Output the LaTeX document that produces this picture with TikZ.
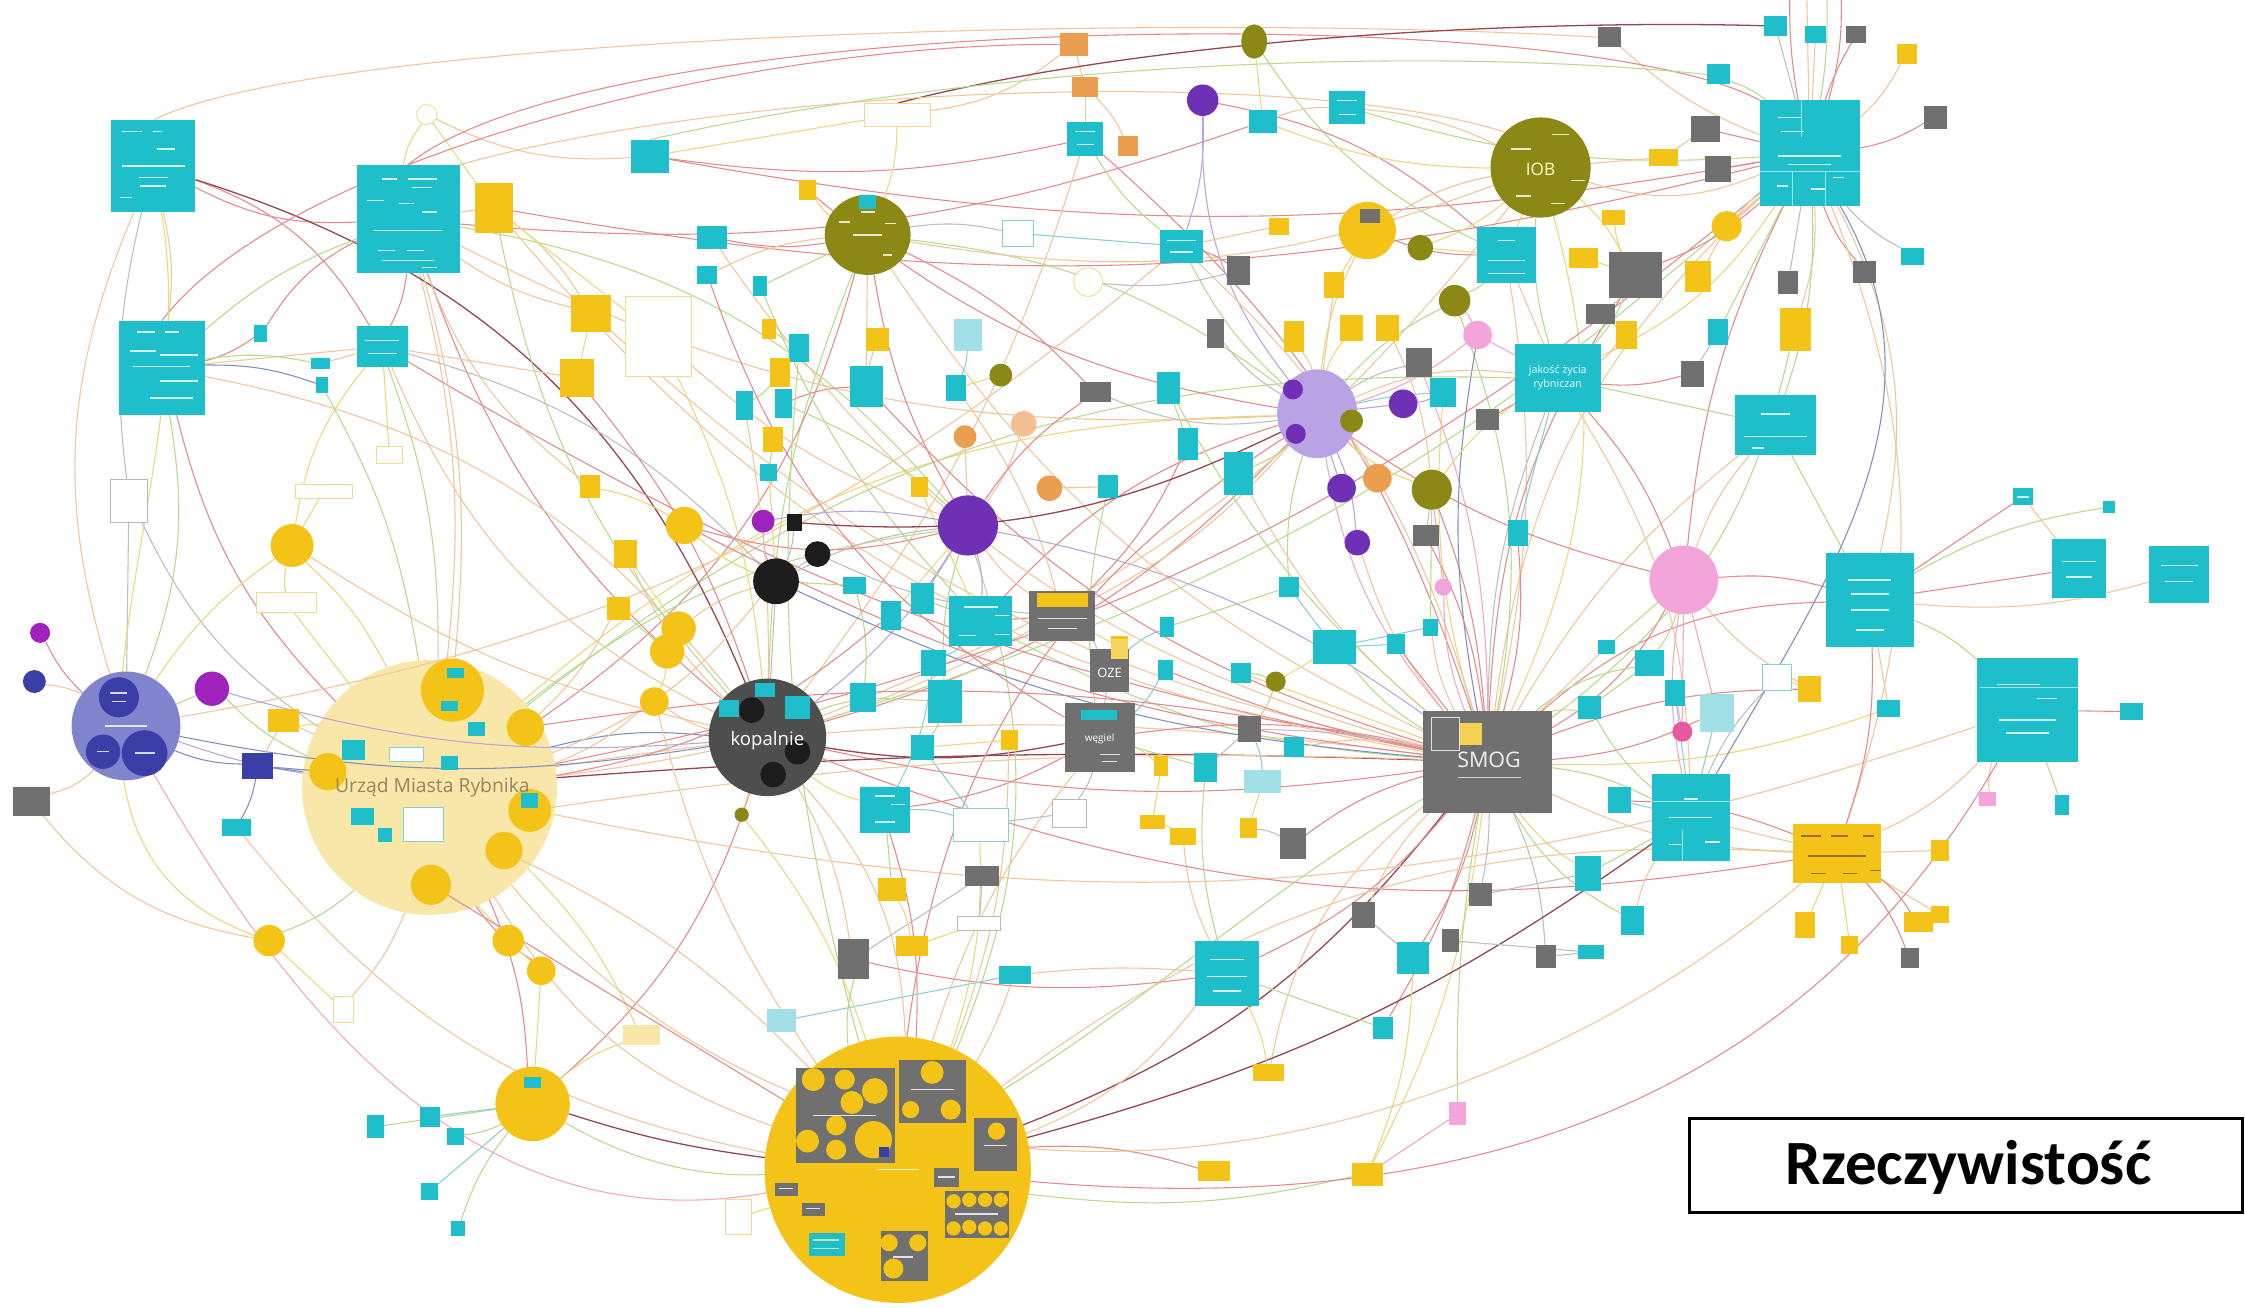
\documentclass[tikz,border=0pt]{standalone}
\usepackage{fontspec}
\setmainfont{Open Sans}
\newfontfamily\carl{Carlito}
\usetikzlibrary{shapes.geometric}
\definecolor{colCy}{RGB}{30,190,203}
\definecolor{colYe}{RGB}{243,195,24}
\definecolor{colGr}{RGB}{112,112,112}
\definecolor{colOl}{RGB}{140,136,22}
\definecolor{colPu}{RGB}{112,48,182}
\definecolor{colLp}{RGB}{186,163,228}
\definecolor{colPer}{RGB}{128,132,204}
\definecolor{colDb}{RGB}{58,62,166}
\definecolor{colMag}{RGB}{160,34,188}
\definecolor{colOr}{RGB}{236,158,80}
\definecolor{colOrP}{RGB}{243,192,150}
\definecolor{colPk}{RGB}{243,165,218}
\definecolor{colPkD}{RGB}{232,90,160}
\definecolor{colPale}{RGB}{249,231,170}
\definecolor{colBk}{RGB}{28,28,28}
\definecolor{colKop}{RGB}{78,78,78}
\definecolor{colPy}{RGB}{243,218,140}
\definecolor{colPcy}{RGB}{160,224,230}
\definecolor{colPco}{RGB}{130,210,218}
\definecolor{eA}{RGB}{242,197,154}
\definecolor{eB}{RGB}{229,138,138}
\definecolor{eC}{RGB}{185,217,140}
\definecolor{eD}{RGB}{238,214,122}
\definecolor{eE}{RGB}{190,190,190}
\definecolor{eF}{RGB}{183,166,218}
\definecolor{eG}{RGB}{150,70,80}
\definecolor{eH}{RGB}{126,143,191}
\definecolor{eI}{RGB}{242,167,198}
\definecolor{eJ}{RGB}{138,207,214}
\definecolor{colUrzT}{RGB}{150,132,92}
\pgfdeclarelayer{bgz}\pgfdeclarelayer{edges}\pgfsetlayers{bgz,edges,main}
\tikzset{
 base/.style={inner sep=0pt,outer sep=0pt,draw=none},
 cy/.style={base,rectangle,fill=colCy},
 ye/.style={base,rectangle,fill=colYe},
 gr/.style={base,rectangle,fill=colGr},
 orb/.style={base,rectangle,fill=colOr},
 pkb/.style={base,rectangle,fill=colPk},
 blk/.style={base,rectangle,fill=colBk},
 dbb/.style={base,rectangle,fill=colDb},
 pyo/.style={base,fill=white,draw=colPy,line width=.6pt},
 pyf/.style={base,rectangle,fill=colPale},
 pcf/.style={base,rectangle,fill=colPcy},
 pco/.style={base,fill=white,draw=colPco,line width=.6pt},
 pwo/.style={base,rectangle,fill=white,draw=gray!55,line width=.6pt},
 yc/.style={base,fill=colYe}, ol/.style={base,fill=colOl}, pu/.style={base,fill=colPu},
 lp/.style={base,fill=colLp}, per/.style={base,fill=colPer}, db/.style={base,fill=colDb},
 mag/.style={base,fill=colMag}, orc/.style={base,fill=colOr}, orp/.style={base,fill=colOrP},
 pk/.style={base,fill=colPk}, pkd/.style={base,fill=colPkD}, bk/.style={base,fill=colBk},
 kopst/.style={base,fill=colKop}, pale/.style={base,fill=colPale},
 ea/.style={draw=eA,line width=.75pt}, eb/.style={draw=eB,line width=.75pt},
 ec/.style={draw=eC,line width=.75pt}, ed/.style={draw=eD,line width=.75pt},
 ee/.style={draw=eE,line width=.75pt}, ef/.style={draw=eF,line width=.75pt},
 eg/.style={draw=eG,line width=.9pt}, eh/.style={draw=eH,line width=.75pt},
 ei/.style={draw=eI,line width=.75pt}, ej/.style={draw=eJ,line width=.75pt},
 lbl/.style={inner sep=0pt,outer sep=0pt}
}
\newcommand\mybox[6]{\node[#2,minimum width=#5pt,minimum height=#6pt] (#1) at (#3,#4) {};}
\newcommand\mycirc[5]{\node[#2,circle,minimum size=#5pt] (#1) at (#3,#4) {};}
\newcommand\myell[6]{\node[#2,ellipse,minimum width=#5pt,minimum height=#6pt] (#1) at (#3,#4) {};}
\newcommand\fbar[4][white]{\draw[#1,line width=1pt,opacity=.8] ({#2-#4/2},#3) -- ({#2+#4/2},#3);}
\begin{document}
\begin{tikzpicture}[x=1pt,y=-1pt]
\useasboundingbox (0,0) rectangle (1568,913);
% white page and big pale circle (lines pass over it)
\begin{pgfonlayer}{bgz}
\fill[white] (0,0) rectangle (1568,913);
\mycirc{urz}{pale}{300}{550}{178}
\end{pgfonlayer}
% ---------- rectangles ----------
\foreach \n/\x/\y/\w/\h in {cA/107/116/59/64, cB/285/153/72/76, cC/113/257/60/66, cD/267/242/36/28,
 cs1/182/233/9/12, cs2/224/254/13/8, cs3/225/269/8/11, cE/454/109/27/23, cF/882/85/20/16,
 cG/941/75/25/23, cH/758/97/25/24, cI/497/166/21/16, cJ/494/192/14/13, cK/531/200/10/14,
 cL/825/172/30/23, cM/558/243/14/20, cN/605/270/23/29, cO/520/283/12/20, cP/547/282/12/20,
 cQ/668/271/14/18, cR/816/271/16/22, cS/830/310/14/22, cT/865/331/20/30, cU/537/330/12/12,
 cV/774/340/14/16, cW/597/409/16/12, cX/644/418/16/22, cY/622/430/14/20, cZ/685/434/44/35,
 c1/815/438/10/14, c2/814/468/10/14, c3/867/470/14/14, c4/652/463/18/18, c5/603/487/18/20,
 c6/660/490/24/30, c7/644/522/16/18, cbig2/618/566/35/32, c8/842/536/16/20, c36/932/452/30/24,
 c37/975/450/12/14, c38/900/410/14/14, c40/904/522/14/14, cTR/1264/107/70/74, c13/1240/18/16/14,
 c14/1268/24/14/12, c15/1200/52/16/14, cAA/1052/178/41/39, c16/1336/179/16/12, c17/1200/232/14/18,
 c18/1008/274/18/20, jak/1088/264/60/48, cAB/1240/297/57/42, c21/1413/347/14/12, c22/1473/354/8/8,
 cRB1/1306/419/61/66, cRB2/1452/397/38/41, cRB3/1522/401/42/40, cRB4/1416/496/71/73, c23/1489/497/16/12,
 c24/1440/562/10/14, c25/1152/463/20/18, c26/1110/494/16/16, c27/1170/484/14/18, c28/1319/495/16/12,
 cBR/1181/571/54/61, c29/1131/559/16/18, c30/1109/610/18/24, c31/1140/643/16/20, c32/987/669/22/22,
 c33/1111/665/18/10, cBig3/857/680/45/45, c41/709/681/22/12, c42/966/718/14/16, c43/262/787/12/16,
 c44/300/780/14/14, c45/318/794/12/12, c46/300/832/12/12, c47/320/858/10/10, cyL/165/578/20/12,
 c50/1122/452/12/10, c51/1060/372/14/18, c52/999/438/10/12}
 {\mybox{\n}{cy}{\x}{\y}{\w}{\h}}
\foreach \n/\x/\y/\w/\h in {yeL/198/503/22/16, yA/345/145/26/35, yB/413/219/28/26, yC/403/264/24/26,
 yD/564/133/12/14, yE/893/158/14/12, yF/932/199/14/18, yH/537/230/10/14, yI/613/237/16/16,
 yJ/904/235/14/22, yK/944/229/16/18, yL/969/229/16/18, yM/545/260/14/20, yN/540/307/14/18,
 yO/642/340/12/14, yP/782/452/12/16, yQ/705/517/12/14, yR/811/535/10/14, yS/805/574/18/10,
 yT/826/584/18/12, yU/872/578/12/14, yV/1162/110/20/12, yW/1332/38/14/14, yX/1127/152/16/10,
 yY/1106/180/20/14, yZ/1186/193/18/22, yAC/1136/234/14/20, yAD/1254/230/22/30, yAF/1264/481/16/18,
 yBox/1283/596/61/41, yAG/1355/594/12/14, yAH/1355/639/12/12, yAI/1261/646/14/18, yAJ/1340/644/20/14,
 yAK/1292/660/12/12, yAM/637/661/22/14, yAN/623/621/20/16, yAO/886/749/22/12, yAP/848/818/22/14,
 yAQ/955/820/22/16, yL1/412/340/14/16, yL2/437/387/16/20, yL3/432/425/16/16}
 {\mybox{\n}{ye}{\x}{\y}{\w}{\h}}
\foreach \n/\x/\y/\w/\h in {grL/22/560/26/20, gA/865/189/16/20, gB/849/233/12/20, gC/765/274/22/14,
 gD/742/430/46/35, gOZE/775/468/27/30, gW/768/515/49/48, gE/873/509/16/18, gF/903/589/18/22,
 gG/1191/90/20/18, gH/1200/118/18/18, gI/1352/82/16/16, gJ/1296/24/14/12, gK/1124/26/16/14,
 gL/1142/192/37/32, gM/1249/197/14/16, gN/1302/190/16/16, gO/1118/219/20/14, gP/991/253/18/20,
 gQ/1182/261/16/18, gR/1039/293/16/14, gS/996/374/18/14, gT/1034/625/16/16, gU/952/639/16/18,
 gV/1013/657/12/16, gX/1080/668/14/16, gY/1334/669/12/14, gAA/596/670/22/28, gAB/686/612/24/14,
 smog/1039/532/90/71}
 {\mybox{\n}{gr}{\x}{\y}{\w}{\h}}
\mybox{bkA}{blk}{555}{365}{10}{12}
\mybox{dbx}{dbb}{180}{535}{22}{18}
\foreach \n/\x/\y/\w/\h in {orA/750/31/20/16, orB/758/61/18/14, orC/788/102/14/14}
 {\mybox{\n}{orb}{\x}{\y}{\w}{\h}}
\mybox{pkC}{pkb}{1388}{558}{12}{10}
\mybox{pkE}{pkb}{1018}{778}{12}{16}
\foreach \n/\x/\y/\w/\h in {pyC/627/80/46/16, pyA/460/235/46/56, pyb1/272/318/18/12, pyb2/226/343/40/10,
 pyb3/200/421/42/14, pyb5/240/705/14/18, pyF/516/850/18/24}
 {\mybox{\n}{pyo,rectangle}{\x}{\y}{\w}{\h}}
\mybox{pyE}{pyf}{448}{723}{26}{14}
\foreach \n/\x/\y/\w/\h in {pcB/676/234/20/22, pcD/882/546/26/16, pcE/1199/498/24/26, pcF/546/713/20/16}
 {\mybox{\n}{pcf}{\x}{\y}{\w}{\h}}
\foreach \n/\x/\y/\w/\h in {pcA/711/163/22/18, pcC/685/576/38/23, pwB/1241/473/20/18}
 {\mybox{\n}{pco,rectangle}{\x}{\y}{\w}{\h}}
\foreach \n/\x/\y/\w/\h in {docL/90/350/26/30, pwA/747/568/24/20, pwC/684/645/30/10}
 {\mybox{\n}{pwo}{\x}{\y}{\w}{\h}}
% ---------- circles ----------
\foreach \n/\s/\x/\y/\d in {wsp/per/88/507/76, mag1/mag/28/442/14, dbl1/db/24/476/16, mag2/mag/148/481/24,
 yc1/yc/204/381/30, yc2/yc/188/657/22, yc3/yc/355/657/22, yc4/yc/378/678/20,
 puA/pu/840/70/22, yc5/yc/955/161/40, olC/ol/699/262/16, orD/orc/674/305/16, orE/orp/715/296/18,
 orF/orc/733/341/18, puB/pu/937/341/20, orG/orc/962/334/20, olD/ol/1000/342/28, puE/pu/948/379/18,
 puC/pu/676/367/42, yc6/yc/478/367/26, magB/mag/533/364/16, bkB/bk/571/387/18, bkC/bk/542/406/32,
 yc7/yc/474/439/24, yc8/yc/466/455/24, yc9/yc/457/490/20, kop/kopst/536/515/82, olE/ol/518/569/10,
 olF/ol/891/476/14, iob/ol/1076/117/70, olG/ol/992/173/18, yc10/yc/1206/158/21, olH/ol/1016/210/22,
 pkA/pk/1032/234/20, puD/pu/980/282/20, pkBig/pk/1176/405/48, pkB/pk/1008/410/12, pkD/pkd/1175/511/14,
 yc11/yc/372/771/52, bigY/yc/627/817/186}
 {\mycirc{\n}{\s}{\x}{\y}{\d}}
\mycirc{pyb4}{pyo}{298}{80}{14}
\mycirc{pyD}{pyo}{760}{197}{20}
\myell{olA}{ol}{876}{29}{18}{24}
\myell{olB}{ol}{606}{164}{60}{56}
\myell{lpA}{lp}{920}{289}{56}{62}
% inner of periwinkle circle
\mycirc{wsp1}{db}{83}{487}{28}
\mycirc{wsp2}{db}{72}{525}{24}
\mycirc{wsp3}{db}{101}{526}{32}
\fbar{88}{507}{30}\fbar{83}{484}{12}\fbar{83}{490}{10}\fbar{101}{526}{14}\fbar{72}{525}{8}
% inner of Urzad
\foreach \n/\x/\y/\d in {u1/316/482/44, u2/367/508/26, u3/229/539/26, u4/370/566/30, u5/352/594/26, u6/301/618/28}
 {\mycirc{\n}{yc}{\x}{\y}{\d}}
\foreach \n/\x/\y/\w/\h in {uc1/247/524/16/14, uc2/333/509/12/10, uc3/314/533/12/10, uc4/253/570/16/12,
 uc5/269/583/10/10, uc6/370/559/12/10, uc7/318/470/12/7, uc8/314/493/12/7}
 {\mybox{\n}{cy}{\x}{\y}{\w}{\h}}
\mybox{up1}{pco,rectangle}{284}{527}{24}{10}
\mybox{up2}{pco,rectangle}{296}{576}{28}{24}
\node[lbl,text=colUrzT,font=\fontsize{13.5}{15}\selectfont] (urzt) at (302,550) {Urząd Miasta Rybnika};
% inner of light purple circle
\mycirc{lp1}{pu}{903}{272}{14}
\mycirc{lp2}{pu}{905}{303}{14}
\mycirc{lp3}{ol}{944}{294}{16}
% kopalnie inner
\foreach \n/\x/\y/\w/\h in {k1/534/482/14/10, k2/509/495/14/12, k3/557/494/18/16}
 {\mybox{\n}{cy}{\x}{\y}{\w}{\h}}
\mycirc{kb1}{bk}{525}{496}{18}
\mycirc{kb2}{bk}{557}{525}{18}
\mycirc{kb3}{bk}{540}{541}{18}
\node[lbl,text=white,font=\fontsize{13}{15}\selectfont] (kopt) at (536,517) {kopalnie};
% IOB
\node[lbl,text=yellow!20!white,font=\fontsize{12}{14}\selectfont] (iobt) at (1076,118) {IOB};
\fbar{1090}{94}{12}\fbar{1062}{104}{14}\fbar{1102}{126}{10}\fbar{1064}{137}{10}\fbar{1088}{142}{10}
% SMOG
\draw[white!75!gray,line width=.6pt] (1000,501) rectangle (1019,524);
\fill[colYe!75!white] (1020,505) rectangle (1035,520);
\node[lbl,text=white!88!gray,font=\fontsize{15}{17}\selectfont] (smogt) at (1040,531) {SMOG};
\draw[white!65!gray,line width=.5pt] (1018,543) -- (1062,543);
% gray boxes with content
\fill[colYe] (724,414) rectangle (760,424);
\fbar{742}{432}{34}\fbar{742}{439}{20}
\fill[colYe!70!white] (776,446) rectangle (788,460);
\node[lbl,text=white,font=\fontsize{9}{10}\selectfont] (ozet) at (775,470) {OZE};
\fill[colCy] (755,496) rectangle (780,503);
\node[lbl,text=white,font=\fontsize{7}{8}\selectfont] (wegt) at (768,516) {węgiel};
\fbar{775}{527}{14}\fbar{775}{532}{10}
% jakosc
\node[lbl,text=white!92!colCy,align=center,font=\fontsize{7.5}{10}\selectfont] (jakt) at (1088,264) {jakość życia\\rybniczan};
% big yellow circle content
\fill[colGr] (556,746) rectangle (625,812);
\fill[colGr] (628,740) rectangle (675,784);
\fill[colGr] (680,781) rectangle (710,818);
\fill[colGr] (652,816) rectangle (670,829);
\fill[colGr] (660,832) rectangle (705,865);
\fill[colGr] (615,860) rectangle (648,895);
\fill[colGr] (541,826) rectangle (557,835);
\fill[colGr] (560,840) rectangle (576,849);
\fill[colCy] (565,861) rectangle (590,877);
\foreach \x/\y/\r in {568/754/8, 590/754/7, 611/762/9, 595/770/8, 564/797/8, 584/786/7, 584/803/7, 610/796/13,
 651/749/8, 636/775/6, 664/775/7, 696/790/6, 666/839/5, 677/838/5, 688/838/5, 699/838/5, 666/858/5,
 677/857/5, 688/858/5, 699/858/5, 621/868/6, 641/868/6, 624/886/7}
 {\fill[colYe] (\x,\y) circle (\r pt);}
\fill[colDb] (614,801) rectangle (621,808);
\fbar{590}{779}{44}\fbar{651}{761}{30}\fbar{695}{800}{16}\fbar{682}{848}{30}\fbar{631}{878}{14}
\fbar{627}{817}{30}\fbar{661}{822}{12}\fbar{549}{830}{10}\fbar{568}{844}{10}
\fbar[colYe!40!white]{577}{866}{18}\fbar[colYe!40!white]{577}{872}{18}
% olive circle text marks
\fbar{606}{164}{20}\fbar{606}{148}{10}\fbar{590}{155}{8}\fbar{622}{156}{8}\fbar{620}{178}{6}
\fill[colCy] (600,136) rectangle (612,146);
% yellow circle with gray box
\fill[colGr] (950,146) rectangle (964,156);
\fill[colCy] (366,752) rectangle (378,760);
% faux text marks in cyan boxes
\foreach \x/\y/\w in {92/92/14, 110/92/6, 116/104/12, 107/116/44, 107/124/20, 107/130/18, 88/138/8,
 272/125/10, 295/125/20, 295/131/14, 262/140/12, 284/142/10, 300/148/10, 285/161/48, 270/175/12, 290/175/12,
 285/182/36, 300/187/10, 102/232/12, 120/232/10, 100/245/18, 125/248/26, 113/256/40, 125/266/26, 120/278/30,
 267/238/24, 267/247/20, 1250/82/16, 1252/92/16, 1264/109/44, 1264/115/30, 1245/130/8, 1270/132/10, 1284/124/8,
 1240/289/20, 1240/305/44, 1228/313/8, 1306/405/30, 1306/415/26, 1306/426/26, 1306/440/20,
 1410/478/30, 1430/488/14, 1416/503/40, 1416/512/30, 1452/392/24, 1452/403/18, 1522/395/26, 1522/406/20,
 1181/558/10, 1181/571/30, 1170/590/8, 1196/588/10, 685/424/24, 700/430/10, 676/444/12, 700/443/10,
 618/556/14, 627/562/10, 618/574/14, 857/670/24, 857/682/28, 857/692/20, 1052/168/12, 1052/182/26,
 1052/191/26, 1413/347/8, 825/168/20, 825/176/16, 941/70/14, 941/80/12, 758/92/14, 758/101/12}
 {\fbar{\x}{\y}{\w}}
\foreach \x/\y/\w in {1265/584/14, 1285/584/12, 1305/584/8, 1283/598/40, 1270/610/10, 1292/610/10, 1310/608/8}
 {\fbar[brown!70!black]{\x}{\y}{\w}}
\draw[white!55!colCy,line width=.6pt] (1258,70) -- (1258,96) (1229,120) -- (1299,120) (1252,120) -- (1252,144) (1275,120) -- (1275,144);
\draw[white!55!colCy,line width=.6pt] (1154,560) -- (1208,560) (1175,580) -- (1175,602) (1383,480) -- (1452,480);
% ---------- edges ----------
\coordinate (t1) at (1250,0);
\coordinate (t2) at (1262,0);
\coordinate (t3) at (1276,0);
\coordinate (t4) at (1286,0);
\begin{pgfonlayer}{edges}
\foreach \a/\b/\s/\k in {
smog/kop/eb/10, smog/urz/ea/-8, smog/cZ/ec/12, smog/gW/eb/-10, smog/lpA/ei/15, smog/iob/ed/-20,
smog/cTR/ea/20, smog/jak/ee/10, smog/pkBig/eb/-15, smog/cBR/ec/10, smog/yBox/ea/-12, smog/cRB1/eb/20,
smog/bigY/eg/15, smog/puC/ef/-12, smog/olB/ea/15, smog/c36/ec/10, smog/c30/ed/-10, smog/gT/ee/5,
smog/c32/eb/10, smog/gU/ea/-10, smog/yAQ/ed/10, smog/pkE/ec/-5, smog/c42/eb/8, smog/yAO/ea/-20,
smog/cBig3/eb/12, smog/c31/ec/-15, smog/gX/ee/10, smog/c26/ea/10, smog/pcE/eb/-10, smog/c25/ec/15,
smog/gP/ei/-10, smog/c18/ed/10, smog/olD/eb/-8, smog/puE/ea/10, smog/olH/ec/-15, smog/pkA/eh/10,
smog/cAA/ea/-10, smog/gL/eb/15, smog/yAD/ec/-20, smog/cAB/ea/10, smog/c28/ed/-10, smog/yAF/eb/10,
kop/urz/eh/-10, kop/bkC/ee/0, kop/cB/eb/15, kop/cC/ea/-20, kop/olB/ec/10, kop/puC/ef/-10, kop/gW/eg/-10,
kop/bigY/ea/20, kop/c5/ec/5, kop/cbig2/ed/-10, kop/yc9/ea/10, kop/wsp/eh/10, kop/lpA/eb/-15, kop/iob/ea/-15,
kop/cTR/ec/-12, kop/yc11/eb/15, kop/gAA/ea/10, kop/olE/ed/0,
urz/cC/eb/15, urz/cB/ea/-10, urz/wsp/ef/5, urz/dbx/eh/0, urz/yeL/ea/0, urz/mag2/ec/10, urz/yc1/ed/-10,
urz/docL/ee/15, urz/yc11/eb/10, urz/bigY/ea/-20, urz/yc2/ec/10, urz/yc3/ed/-5, urz/yc4/eb/-10,
urz/pyb5/ea/10, urz/olB/eb/-20, urz/puC/ec/15, urz/gD/ea/-10, urz/cTR/eb/-14, urz/cRB4/ea/-15,
urz/lpA/ed/20, urz/jak/ec/20, urz/pyE/ed/10, urz/smog/eg/3,
bigY/gW/ea/10, bigY/cbig2/eb/-10, bigY/gAA/ec/10, bigY/cBig3/ea/-15, bigY/yAP/eb/10, bigY/yAQ/ec/-10,
bigY/yBox/ea/20, bigY/pyF/ed/0, bigY/yc11/eg/5, bigY/c41/ea/-5, bigY/puC/ec/-20, bigY/lpA/eb/25,
bigY/pcC/ed/-10, bigY/cBR/eg/-10, bigY/yc9/ea/10,
wsp/mag1/eb/10, wsp/dbl1/ea/-10, wsp/grL/ea/15, wsp/mag2/ec/0, wsp/dbx/eh/-10, wsp/cA/ea/20,
wsp/cC/ec/-15, wsp/yc1/ed/10, wsp/docL/ee/0, wsp/cL/ea/-15, dbx/cyL/eh/10, dbx/yeL/ea/0, grL/yc2/ea/-20,
cA/cB/eb/-15, cA/cC/ea/10, cA/cD/eb/20, cA/kop/eg/25, cB/cD/eb/10, cB/cC/ec/-10, cB/yA/ea/0,
cB/pyb4/ed/15, cB/cF/eb/-12, cB/puC/ec/20, cB/lpA/ea/-15, cC/cD/ea/0, cC/cs1/eb/-10, cC/cs2/ec/10,
cC/cs3/eh/10, cD/kop/ea/-20, cD/smog/eb/-10, cD/urz/ec/10, cD/yc1/ed/-15, cD/bkC/ee/15,
yA/yB/ea/10, yA/pyA/ed/0, yA/cTR/eb/-12, yA/kop/ec/-15, yA/smog/ea/-20, pyb4/yA/ed/0, pyb4/cE/ea/-15,
cE/cH/eb/-10, cE/cTR/eb/-10, cE/pyC/ed/0,
pyC/orA/ea/-15, pyC/olB/ed/10, orA/orB/ea/0, orB/cH/ea/0, orB/orC/ea/10, cH/cL/ec/-10, cH/smog/eb/15,
cH/kop/ea/10, olA/cF/ed/0, olA/cAA/ec/-15, puA/cL/ef/10, puA/lpA/ef/-20, puA/cAA/eb/15, cF/cG/ea/10,
cF/iob/ed/-10, cG/iob/ea/10, cG/cTR/ec/-10, olB/cI/eb/10, olB/cJ/ea/-10, olB/cK/ec/0, olB/yD/ed/10,
olB/pcA/ee/10, olB/cN/ea/0, olB/puC/eb/-10, olB/lpA/ec/15, olB/iob/ea/-15, olB/gC/eb/10,
cL/yE/ea/0, cL/gA/eb/10, cL/lpA/ec/-10, cL/smog/ea/15, yc5/lpA/ed/-10, yc5/iob/ea/10, yc5/yF/ed/0,
yc5/cAA/eb/-10, gA/pyD/ee/10, yF/lpA/ea/0, yH/cM/ec/0, yI/cN/ea/-5, pcB/cQ/ej/10, gB/lpA/ee/-10,
yJ/lpA/ea/10, yK/lpA/ed/-10, yL/olD/ea/10, yM/cO/ec/10, cN/cP/eb/-10, olC/cQ/ed/0, gC/lpA/ee/-15,
cR/cS/ec/0, lpA/puB/ef/0, lpA/orG/ea/5, lpA/olD/ed/-10, lpA/olH/ec/10, lpA/pkA/ei/-10, lpA/gP/ee/10,
lpA/puD/ef/0, lpA/c18/ej/5, lpA/cT/ec/10, lpA/jak/ea/15, lpA/pkBig/eb/-10, lpA/puE/ef/10, lpA/cZ/eb/-15,
lpA/gD/ea/10, yN/cU/ec/0, orD/puC/ea/0, orE/puC/ea/10, orF/cV/ea/0, puC/cX/ef/0, puC/cZ/ef/10,
puC/bkC/ee/-10, puC/gD/ea/-10, puC/yc6/eb/15, puC/c6/ec/-10, puC/cY/ed/0,
bkC/bkB/ee/0, bkC/magB/ef/10, bkC/bkA/ee/-10, bkC/yc6/ed/10, bkC/yc7/ea/-10, bkC/cW/ec/0,
bkC/smog/eh/-10, bkC/urz/ea/15, yc7/yc8/ed/0, yc8/yc9/ed/10, yc9/urz/ea/10,
cZ/cX/ec/0, cZ/gD/eb/0, cZ/c4/ej/10, gD/yP/ed/0, gD/gOZE/ee/10, gOZE/gW/ee/0, gOZE/c1/ej/10,
gW/c2/ej/-10, gW/yR/ed/10, gW/c8/ec/0, gW/pwA/ee/10, gW/cbig2/eb/10, c5/c6/ec/0, c6/c7/ec/10,
c7/pcC/ej/0, cbig2/pcC/ej/10, pcC/pwA/ee/0, yQ/c7/ed/0, yS/yT/ed/10, yT/cBig3/ea/-10, c8/gE/ee/0,
gE/pcD/ej/10, pcD/yU/ed/0, yU/gF/ee/10, gF/smog/eb/10, olF/c36/ed/0, olF/gE/ec/10, c36/c37/ej/0,
c38/lpA/ec/10, c38/c36/ej/0, c40/smog/ea/10, c3/olF/ec/10,
iob/cAA/ed/0, iob/yV/ea/0, iob/gL/ed/10, iob/jak/ec/-10, iob/olG/ed/10, iob/cTR/ea/-20,
yV/gG/ea/0, gG/cTR/eb/0, gH/cTR/eb/0, gI/cTR/eb/10, c13/cTR/ee/0, c14/cTR/ea/0, gJ/cTR/eb/-5,
gK/cTR/ea/-10, yW/cTR/ea/10, c15/cTR/ec/10, gL/yY/ed/0, gL/yX/ed/10, gL/gO/ee/10, gL/cTR/eb/-10,
gL/jak/ec/10, yc10/cTR/ea/0, yZ/cTR/ea/10, gM/cTR/ee/0, gN/cTR/eb/10, c16/cTR/ee/10, yAD/cTR/ea/-10,
cTR/cAB/ec/10, cTR/pkBig/eb/-10, cTR/cRB1/ea/20, cTR/jak/ed/15, cTR/c17/ec/0, cTR/yBox/ea/20,
cAA/olG/ed/0, cAA/olH/ec/10, cAA/jak/ea/0, olH/pkA/ei/10, pkA/jak/ei/0, gO/yAC/ed/0, yAC/jak/ea/10,
c17/gQ/ee/0, gQ/jak/eb/10, gP/c18/ec/0, c18/puD/ef/10, gR/jak/eb/0, jak/olD/ed/-10, jak/pkBig/eb/10,
jak/cAB/ec/0, jak/cBR/ea/15, cAB/pkBig/ea/-10, cAB/cRB1/ec/0, pkBig/cRB1/eb/10, pkBig/cBR/ei/-10,
pkBig/pcE/ei/0, pkBig/c25/ec/10, pkBig/yAF/ea/-10, pkBig/pkD/ei/0, cRB1/c21/eb/0, cRB1/c22/ec/10,
cRB1/cRB2/eb/0, cRB1/cRB3/ea/-10, cRB1/cRB4/ec/10, cRB1/yBox/eb/10, cRB1/c28/ea/0, cRB4/c23/eb/0,
cRB4/pkC/ea/-10, cRB4/c24/ec/0, cRB4/yBox/ea/10, cRB2/c21/ea/0, yBox/yAG/ea/0, yBox/yAH/ea/0,
yBox/yAI/ed/0, yBox/yAJ/eb/10, yBox/yAK/ed/0, yBox/gY/eb/10, yBox/cBR/ea/0, yBox/c29/eb/-10,
yBox/kop/eb/15, cBR/c29/ej/0, cBR/c30/ec/0, cBR/pcE/ej/0, cBR/c26/ec/10, cBR/c31/ea/-10, cBR/pwB/ee/10,
cBR/c27/ej/0, pkD/c27/ei/0, c25/c26/ec/0, pwB/yAF/ed/0, gT/c30/ee/0, gU/c32/ee/0, gV/c33/ee/0,
gX/c33/ee/0, c32/yAQ/ed/10, pkE/yAQ/ei/0, c42/cBig3/ec/0, cBig3/yAO/ed/10, cBig3/c41/ea/-5,
cBig3/gAA/eb/10, gAA/gAB/ee/0, gAB/pwC/ee/0, pwC/yAM/ed/0, yAN/yAM/ed/10, yAN/cbig2/ec/0, c41/pcF/ej/0,
yc11/c43/ec/0, yc11/c44/ej/0, yc11/c45/ec/10, yc11/c46/ej/0, yc11/c47/ec/-10, yc11/pyE/ed/10,
yc11/yc4/ed/0, yc2/pyb5/ed/0, yc3/yc4/ed/0,
yL1/yc6/ed/10, yL1/cB/ea/15, yL2/yc7/ed/0, yL2/kop/ea/-10, yL3/yc8/ec/0, yL3/urz/ea/10,
c50/smog/ea/0, c50/pkBig/ec/0, c51/jak/ej/0, c51/smog/eb/10, c52/olD/ec/0, c52/smog/ea/-10,
gS/olD/ee/0, gS/smog/eb/10, pkB/olD/ei/0, pkB/smog/ei/-10, yB/cB/ea/10, yC/cD/ea/0, yB/yC/ed/0,
yC/kop/eb/10, yB/smog/ea/-15, pyb1/cD/ed/0, pyb2/yc1/ed/0, pyb3/yc1/ed/10, pyb3/urz/ed/0,
u1/cB/ea/-10, u2/smog/eb/10, u4/smog/ea/5, u5/bigY/ea/10, u6/bigY/eb/0, u3/dbx/eh/0,
cTR/t1/eb/5, cTR/t2/ea/0, cTR/t3/ec/-5, cTR/t4/eb/-8,
cI/smog/ea/-20, cJ/gW/eb/-20, cK/cZ/ec/-10, yD/lpA/eb/-15, pyA/kop/ed/10, pyA/puC/ea/-10,
cM/bigY/ec/-10, cN/smog/eb/-15, cO/kop/ea/5, cP/puC/ec/10, cQ/gD/ea/10, cR/smog/ec/-10, cS/gD/eb/10,
cT/smog/ea/-10, cU/bkC/ed/0, cV/gW/ec/-10, yO/cZ/ed/0, gC/puC/eb/-10, pcA/cL/ej/0, cW/c5/ec/10,
cY/urz/eb/15, c4/cbig2/ej/10, c1/c38/ec/0, c2/smog/eb/-5, c3/smog/ed/0, c8/cBig3/ec/-10,
yR/yS/ed/0, yQ/bigY/ea/10, c37/smog/eb/0, c52/c36/ej/0, gE/smog/ee/5, olE/bigY/ed/10,
cs1/cB/eb/15, cs2/cD/ea/0, cs3/urz/ec/10, cyL/bigY/ea/-20, yeL/urz/ed/5, mag2/kop/ef/-10,
docL/cA/ee/10, yc1/kop/ea/-10, yc6/smog/eb/-10, magB/puC/ef/10, bkB/gD/ee/-10, bkA/lpA/eg/-15}
{\draw[\s] (\a) to[bend left=\k] (\b);}
% long sweeping arcs (kept inside the page)
\draw[eb] (cB.north) .. controls (420,5) and (1100,0) .. (cTR.north west);
\draw[ea] (cA.north) .. controls (220,25) and (820,8) .. (gK.west);
\draw[eg] (pyC.north) .. controls (820,22) and (1100,14) .. (c13.west);
\draw[ec] (cE.north) .. controls (700,42) and (1000,32) .. (c15.west);
\draw[eb] (cC.north) .. controls (200,110) and (520,30) .. (orA.west);
\draw[ea] (urz) to[out=-50,in=-140] (yBox);
\draw[eb] (bigY) to[out=-5,in=-120] (cRB4);
\draw[ec] (yc11) to[out=-30,in=-150] (smog);
\draw[ei] (wsp) to[out=-60,in=-170] (bigY);
\draw[ed] (cA) to[out=-80,in=160] (yc2);
\draw[eh] (cTR) to[out=-60,in=60] (cBR);
\draw[ea] (iob.north west) .. controls (900,45) and (520,60) .. (cB.north east);
\end{pgfonlayer}
% ---------- label box ----------
\node[draw=black,line width=2pt,fill=white,minimum width=386pt,minimum height=66pt,inner sep=0pt] (rz) at (1373,814) {};
\node[lbl,font=\carl\bfseries\fontsize{44}{50}\selectfont] (rzt) at (1375,815) {Rzeczywistość};
\end{tikzpicture}
\end{document}
